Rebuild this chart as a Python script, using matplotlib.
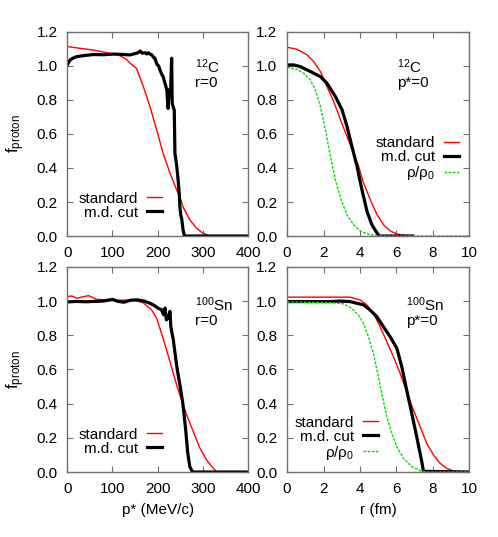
import numpy as np
import matplotlib
matplotlib.use('Agg')
import matplotlib.pyplot as plt

plt.rcParams['font.family'] = ['Liberation Sans', 'DejaVu Sans']
plt.rcParams['font.size'] = 11
plt.rcParams['mathtext.fontset'] = 'custom'
plt.rcParams['mathtext.rm'] = 'Liberation Sans'
plt.rcParams['mathtext.it'] = 'Liberation Sans'

# ---- data ----
# 12C, r=0 (f vs p*)
c12_p_std = [0, 25, 57, 94, 113, 130, 139, 153, 168, 183, 198, 212, 227, 242, 249,
             256, 271, 286, 300, 312, 318, 400]
c12_f_std = [1.114, 1.105, 1.094, 1.075, 1.065, 1.04, 1.016, 0.986, 0.88, 0.76, 0.62,
             0.486, 0.37, 0.27, 0.23, 0.17, 0.094, 0.045, 0.016, 0.004, 0.0, 0.0]
c12_p_md = [0, 3, 6, 12, 21, 40, 58, 80, 102, 120, 139, 146, 153, 158, 161, 166, 172,
            176, 179, 183, 187, 191, 194, 198, 202, 205, 209, 212, 216, 220, 223, 225,
            228, 230.7, 232, 234, 236.5, 238, 240, 242, 245, 247.5, 249, 251, 253, 256,
            259, 400]
c12_f_md = [1.006, 1.02, 1.035, 1.045, 1.055, 1.062, 1.067, 1.066, 1.07, 1.068, 1.065,
            1.07, 1.075, 1.08, 1.088, 1.075, 1.078, 1.07, 1.078, 1.07, 1.065, 1.05,
            1.045, 1.01, 1.0, 0.976, 0.95, 0.937, 0.898, 0.86, 0.75, 0.86, 0.82, 1.045,
            0.78, 0.76, 0.74, 0.486, 0.45, 0.41, 0.33, 0.25, 0.17, 0.12, 0.1, 0.035,
            0.0, 0.0]

# 12C, p*=0 (f vs r)
c12_r_std = [0, 0.55, 1.1, 1.46, 1.83, 2.19, 2.56, 2.93, 3.29, 3.66, 3.93, 4.2, 4.57,
             4.94, 5.3, 5.67, 6.03, 6.4, 6.76, 6.9]
c12_fr_std = [1.11, 1.098, 1.065, 1.025, 0.967, 0.878, 0.79, 0.682, 0.584, 0.486, 0.408,
              0.31, 0.212, 0.124, 0.065, 0.029, 0.012, 0.004, 0.0, 0.0]
c12_r_md = [0, 0.37, 0.73, 1.28, 1.83, 2.19, 2.65, 3.02, 3.29, 3.56, 3.84, 4.11, 4.39,
            4.66, 4.94, 5.08, 6.9]
c12_fr_md = [1.006, 1.006, 0.996, 0.967, 0.937, 0.898, 0.82, 0.741, 0.643, 0.525, 0.408,
             0.27, 0.143, 0.065, 0.016, 0.0, 0.0]
c12_r_rho = [0, 0.55, 0.91, 1.28, 1.55, 1.83, 2.1, 2.38, 2.65, 2.93, 3.29, 3.66, 4.02,
             4.48, 4.94, 5.3, 10]
c12_rho = [0.992, 0.98, 0.957, 0.918, 0.859, 0.761, 0.624, 0.467, 0.33, 0.222, 0.124,
           0.065, 0.029, 0.01, 0.002, 0.0, 0.0]

# 100Sn, r=0 (f vs p*)
sn_p_std = [0, 10, 21, 35, 47, 65, 80, 94, 120, 146, 168, 186.5, 197.6, 212, 227, 241.7,
            252.8, 263.8, 278.6, 293.3, 308, 322.7, 330, 400]
sn_f_std = [1.026, 1.03, 1.017, 1.025, 1.032, 1.01, 1.008, 1.003, 1.005, 1.007, 0.99,
            0.948, 0.90, 0.78, 0.646, 0.51, 0.42, 0.334, 0.236, 0.139, 0.07, 0.022,
            0.002, 0.0]
sn_p_md = [0, 20, 40, 60, 80, 100, 110, 125, 140, 155, 170, 180, 190, 201, 208, 213, 216,
           219, 223, 227, 229, 231, 234, 238, 242, 245, 249, 252, 255, 258, 260, 262,
           264, 266, 268, 271, 275, 278, 400]
sn_f_md = [0.995, 0.998, 0.996, 0.998, 1.0, 1.01, 1.0, 0.993, 1.005, 1.007, 1.0, 0.99,
           0.978, 0.958, 0.95, 0.92, 0.96, 0.89, 0.9, 0.94, 0.85, 0.82, 0.78, 0.70,
           0.62, 0.57, 0.51, 0.46, 0.41, 0.34, 0.29, 0.24, 0.18, 0.12, 0.08, 0.03, 0.01,
           0.0, 0.0]

# 100Sn, p*=0 (f vs r)
sn_r_std = [0, 2.36, 3.45, 4.0, 4.37, 4.73, 5.1, 5.47, 5.83, 6.2, 6.56, 6.93, 7.3, 7.66,
            8.03, 8.39, 8.76, 9.13, 9.49, 10]
sn_fr_std = [1.023, 1.023, 1.023, 1.007, 0.978, 0.929, 0.851, 0.763, 0.675, 0.578, 0.47,
             0.363, 0.265, 0.168, 0.10, 0.051, 0.021, 0.006, 0.0, 0.0]
sn_r_md = [0, 2.36, 2.9, 3.45, 4.19, 4.55, 4.92, 5.28, 5.65, 6.02, 6.29, 6.56, 6.84,
           7.11, 7.39, 7.48, 10]
sn_fr_md = [0.997, 0.997, 1.0, 0.997, 0.978, 0.948, 0.909, 0.851, 0.792, 0.724, 0.617,
            0.48, 0.343, 0.207, 0.06, 0.004, 0.0]
sn_r_rho = [0, 2.36, 3.09, 3.55, 3.91, 4.19, 4.46, 4.73, 5.01, 5.19, 5.47, 5.74, 6.02,
            6.38, 6.84, 7.3, 7.66, 10]
sn_rho = [0.995, 0.991, 0.984, 0.958, 0.919, 0.87, 0.792, 0.695, 0.558, 0.46, 0.324,
          0.226, 0.148, 0.08, 0.031, 0.008, 0.0, 0.0]

yticks = [0.0, 0.2, 0.4, 0.6, 0.8, 1.0, 1.2]
pticks = [0, 100, 200, 300, 400]
rticks = [0, 2, 4, 6, 8, 10]

RED = '#ff0000'
GREEN = '#00dd00'
BORDER = '#707070'


def style_axes(ax, xticks, xlim):
    ax.set_xlim(*xlim)
    ax.set_ylim(0, 1.2)
    ax.set_xticks(xticks)
    ax.set_yticks(yticks)
    ax.set_yticklabels(['%.1f' % v for v in yticks])
    ax.tick_params(direction='in', top=True, right=True, length=4.5, width=0.8,
                   color=BORDER, pad=7, labelsize=11)
    for s in ax.spines.values():
        s.set_color(BORDER)
        s.set_linewidth(1.0)


fig = plt.figure(figsize=(4.98, 5.37), dpi=100)

ax1 = fig.add_axes([0.135, 0.5605, 0.3635, 0.38])
ax2 = fig.add_axes([0.5765, 0.5605, 0.366, 0.38])
ax3 = fig.add_axes([0.135, 0.121, 0.3635, 0.382])
ax4 = fig.add_axes([0.5765, 0.121, 0.366, 0.382])

# top left
ax1.plot(c12_p_std, c12_f_std, color=RED, lw=1.0, label='standard')
ax1.plot(c12_p_md, c12_f_md, color='black', lw=2.3, label='m.d. cut')
style_axes(ax1, pticks, (0, 400))
ax1.legend(loc='lower right', bbox_to_anchor=(0.525, 0.08), frameon=False,
           markerfirst=False, handlelength=1.0, handletextpad=0.6,
           labelspacing=0.0, borderpad=0, borderaxespad=0, fontsize=11)
ax1.text(0.705, 0.828, '$^{12}$C', transform=ax1.transAxes, va='center', ha='left')
ax1.text(0.705, 0.75, 'r=0', transform=ax1.transAxes, va='center', ha='left')
ax1.set_ylabel('f$_{proton}$', fontsize=12)
ax1.yaxis.set_label_coords(-0.22, 0.5)

# top right
ax2.plot(c12_r_std, c12_fr_std, color=RED, lw=1.0, label='standard')
ax2.plot(c12_r_md, c12_fr_md, color='black', lw=2.3, label='m.d. cut')
ax2.plot(c12_r_rho, c12_rho, color=GREEN, lw=1.0, ls=(0, (2, 1)),
         label='ρ/ρ$_0$')
style_axes(ax2, rticks, (0, 10))
ax2.legend(loc='lower right', bbox_to_anchor=(0.945, 0.265), frameon=False,
           markerfirst=False, handlelength=1.0, handletextpad=0.6,
           labelspacing=0.0, borderpad=0, borderaxespad=0, fontsize=11)
ax2.text(0.603, 0.828, '$^{12}$C', transform=ax2.transAxes, va='center', ha='left')
ax2.text(0.603, 0.75, 'p*=0', transform=ax2.transAxes, va='center', ha='left')

# bottom left
ax3.plot(sn_p_std, sn_f_std, color=RED, lw=1.0, label='standard')
ax3.plot(sn_p_md, sn_f_md, color='black', lw=2.3, label='m.d. cut')
style_axes(ax3, pticks, (0, 400))
ax3.legend(loc='lower right', bbox_to_anchor=(0.525, 0.08), frameon=False,
           markerfirst=False, handlelength=1.0, handletextpad=0.6,
           labelspacing=0.0, borderpad=0, borderaxespad=0, fontsize=11)
ax3.text(0.705, 0.815, '$^{100}$Sn', transform=ax3.transAxes, va='center', ha='left')
ax3.text(0.705, 0.737, 'r=0', transform=ax3.transAxes, va='center', ha='left')
ax3.set_ylabel('f$_{proton}$', fontsize=12)
ax3.yaxis.set_label_coords(-0.22, 0.5)
ax3.set_xlabel('p* (MeV/c)')
ax3.xaxis.set_label_coords(0.5, -0.15)

# bottom right
ax4.plot(sn_r_std, sn_fr_std, color=RED, lw=1.0, label='standard')
ax4.plot(sn_r_md, sn_fr_md, color='black', lw=2.3, label='m.d. cut')
ax4.plot(sn_r_rho, sn_rho, color=GREEN, lw=1.0, ls=(0, (2, 1)),
         label='ρ/ρ$_0$')
style_axes(ax4, rticks, (0, 10))
ax4.legend(loc='lower right', bbox_to_anchor=(0.5, 0.05), frameon=False,
           markerfirst=False, handlelength=1.0, handletextpad=0.6,
           labelspacing=0.0, borderpad=0, borderaxespad=0, fontsize=11)
ax4.text(0.655, 0.815, '$^{100}$Sn', transform=ax4.transAxes, va='center', ha='left')
ax4.text(0.655, 0.737, 'p*=0', transform=ax4.transAxes, va='center', ha='left')
ax4.set_xlabel('r (fm)')
ax4.xaxis.set_label_coords(0.5, -0.15)

fig.savefig('out.png', dpi=100)
